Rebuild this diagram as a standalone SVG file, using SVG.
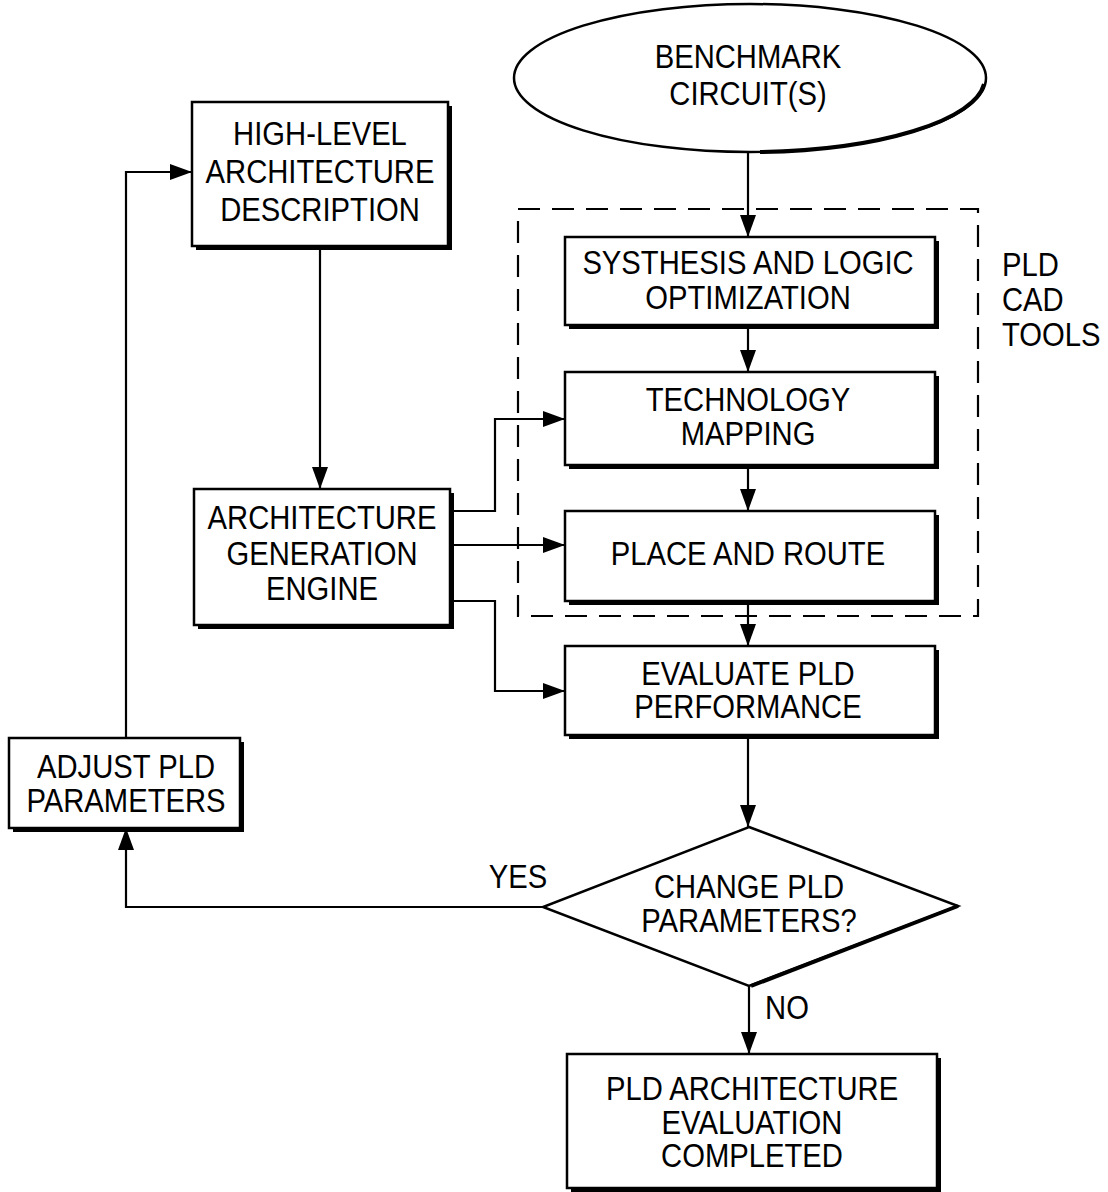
<svg xmlns="http://www.w3.org/2000/svg" width="1108" height="1192" viewBox="0 0 1108 1192">
<defs>
<style>
.box{fill:#fff;stroke:#000;stroke-width:2.5}
.sh{fill:none;stroke:#000;stroke-width:4}
.ln{fill:none;stroke:#000;stroke-width:2.2}
.dash{fill:none;stroke:#000;stroke-width:2.2;stroke-dasharray:22 12}
text{font-family:"Liberation Sans",Arial,sans-serif;font-size:34px;fill:#000;text-anchor:middle;dominant-baseline:central}
.l{text-anchor:start}
</style>
<marker id="ah" markerUnits="userSpaceOnUse" markerWidth="24" markerHeight="16" refX="22" refY="8" orient="auto">
<path d="M0,0 L22,8 L0,16 Z" fill="#000"/>
</marker>
</defs>
<rect width="1108" height="1192" fill="#fff"/>

<g id="cad-tools">
<rect class="dash" x="518" y="209" width="460" height="407"/>
<text class="l" transform="translate(1002,264) scale(0.86,1)">PLD</text>
<text class="l" transform="translate(1002,299) scale(0.86,1)">CAD</text>
<text class="l" transform="translate(1002,334) scale(0.86,1)">TOOLS</text>
</g>

<g id="connectors">
<path class="ln" d="M748,152 V237" marker-end="url(#ah)"/>
<path class="ln" d="M748,325 V372" marker-end="url(#ah)"/>
<path class="ln" d="M748,465 V511" marker-end="url(#ah)"/>
<path class="ln" d="M748,601 V646" marker-end="url(#ah)"/>
<path class="ln" d="M748,735 V827" marker-end="url(#ah)"/>
<path class="ln" d="M749,986 V1054" marker-end="url(#ah)"/>
<path class="ln" d="M320,247 V489" marker-end="url(#ah)"/>
<path class="ln" d="M450,511 H495 V419 H565" marker-end="url(#ah)"/>
<path class="ln" d="M450,545 H565" marker-end="url(#ah)"/>
<path class="ln" d="M450,601 H495 V691 H565" marker-end="url(#ah)"/>
<path class="ln" d="M543,907 H126 V828" marker-end="url(#ah)"/>
<path class="ln" d="M126,738 V172 H192" marker-end="url(#ah)"/>
<text transform="translate(518,876) scale(0.86,1)">YES</text>
<text transform="translate(787,1007) scale(0.86,1)">NO</text>
</g>

<g id="benchmark">
<ellipse cx="750" cy="78" rx="236" ry="74" fill="#fff" stroke="#000" stroke-width="2.5"/>
<path class="sh" d="M984,84 A236,74 0 0 1 760,152" stroke-width="3"/>
<text transform="translate(748,56) scale(0.86,1)">BENCHMARK</text>
<text transform="translate(748,93) scale(0.86,1)">CIRCUIT(S)</text>
</g>

<g id="high-level">
<rect class="box" x="192" y="102" width="256" height="144"/>
<path class="sh" d="M450,106 V248 H196"/>
<text transform="translate(320,133) scale(0.86,1)">HIGH-LEVEL</text>
<text transform="translate(320,171) scale(0.86,1)">ARCHITECTURE</text>
<text transform="translate(320,209) scale(0.86,1)">DESCRIPTION</text>
</g>

<g id="arch-gen">
<rect class="box" x="194" y="489" width="256" height="136"/>
<path class="sh" d="M452,493 V627 H198"/>
<text transform="translate(322,517) scale(0.86,1)">ARCHITECTURE</text>
<text transform="translate(322,553) scale(0.86,1)">GENERATION</text>
<text transform="translate(322,588) scale(0.86,1)">ENGINE</text>
</g>

<g id="synthesis">
<rect class="box" x="565" y="237" width="370" height="88"/>
<path class="sh" d="M937,241 V327 H569"/>
<text transform="translate(748,262) scale(0.86,1)">SYSTHESIS AND LOGIC</text>
<text transform="translate(748,297) scale(0.86,1)">OPTIMIZATION</text>
</g>

<g id="tech-map">
<rect class="box" x="565" y="372" width="370" height="93"/>
<path class="sh" d="M937,376 V467 H569"/>
<text transform="translate(748,399) scale(0.86,1)">TECHNOLOGY</text>
<text transform="translate(748,433) scale(0.86,1)">MAPPING</text>
</g>

<g id="place-route">
<rect class="box" x="565" y="511" width="370" height="90"/>
<path class="sh" d="M937,515 V603 H569"/>
<text transform="translate(748,553) scale(0.86,1)">PLACE AND ROUTE</text>
</g>

<g id="evaluate">
<rect class="box" x="565" y="646" width="370" height="89"/>
<path class="sh" d="M937,650 V737 H569"/>
<text transform="translate(748,673) scale(0.86,1)">EVALUATE PLD</text>
<text transform="translate(748,706) scale(0.86,1)">PERFORMANCE</text>
</g>

<g id="decision">
<polygon points="749,827 958,906 749,986 543,907" fill="#fff" stroke="#000" stroke-width="2.5"/>
<path class="sh" d="M958,906 L751,986" stroke-width="5"/>
<text transform="translate(749,886) scale(0.86,1)">CHANGE PLD</text>
<text transform="translate(749,920) scale(0.86,1)">PARAMETERS?</text>
</g>

<g id="adjust">
<rect class="box" x="9" y="738" width="231" height="90"/>
<path class="sh" d="M242,742 V830 H13"/>
<text transform="translate(126,766) scale(0.86,1)">ADJUST PLD</text>
<text transform="translate(126,800) scale(0.86,1)">PARAMETERS</text>
</g>

<g id="completed">
<rect class="box" x="567" y="1054" width="370" height="134"/>
<path class="sh" d="M939,1058 V1190 H571"/>
<text transform="translate(752,1088) scale(0.86,1)">PLD ARCHITECTURE</text>
<text transform="translate(752,1122) scale(0.86,1)">EVALUATION</text>
<text transform="translate(752,1155) scale(0.86,1)">COMPLETED</text>
</g>
</svg>
